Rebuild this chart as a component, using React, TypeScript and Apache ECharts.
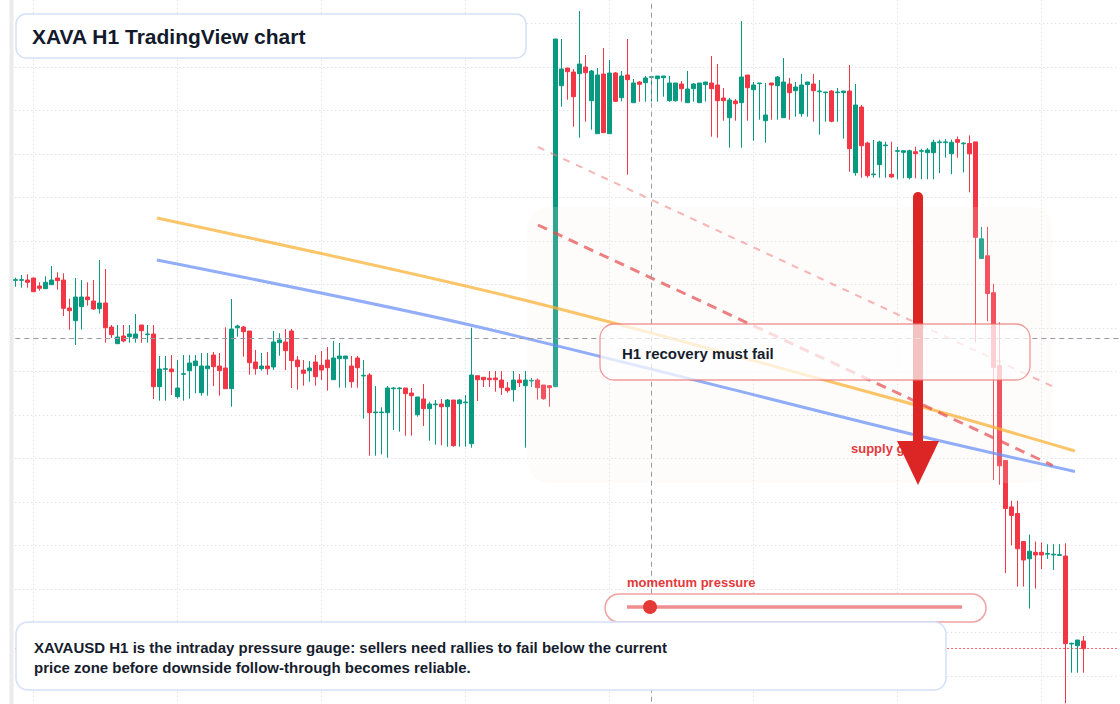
import { useEffect, useRef } from "react";
import * as echarts from "echarts";

// XAVA/USD hourly candles (open, close, low, high)
const opens = [
  0.39197, 0.39197, 0.392, 0.3922, 0.3914, 0.39113, 0.39153, 0.3922, 0.392, 0.3892,
  0.38793, 0.38933, 0.3903, 0.3899, 0.38913, 0.3897, 0.3873, 0.38563, 0.3864, 0.38633,
  0.38617, 0.3875, 0.38653, 0.3866, 0.38133, 0.38307, 0.3831, 0.38033, 0.38257, 0.38293,
  0.38343, 0.38073, 0.38313, 0.3845, 0.3834, 0.3832, 0.38113, 0.38723, 0.3873, 0.3869,
  0.3838, 0.38313, 0.3834, 0.3833, 0.38573, 0.3858, 0.3869, 0.384, 0.383, 0.38293,
  0.3838, 0.38347, 0.384, 0.38203, 0.38413, 0.38413, 0.3834, 0.3842, 0.3824, 0.3825,
  0.37873, 0.37873, 0.37873, 0.38113, 0.38113, 0.3812, 0.3807, 0.37853, 0.3801, 0.37913,
  0.37953, 0.3796, 0.37933, 0.38, 0.37963, 0.37973, 0.37563, 0.38243, 0.38227, 0.38217,
  0.3822, 0.382, 0.3812, 0.38103, 0.382, 0.38143, 0.3819, 0.382, 0.3815, 0.38143,
  0.38133, 0.41143, 0.4132, 0.4128, 0.41263, 0.4133, 0.40993, 0.40663, 0.4126, 0.40663,
  0.4127, 0.41023, 0.4125, 0.40973, 0.4118, 0.41173, 0.41227, 0.41213, 0.41223, 0.40993,
  0.40993, 0.4116, 0.40973, 0.41113, 0.40973, 0.41153, 0.4117, 0.4115, 0.4102, 0.40823,
  0.4099, 0.40973, 0.4125, 0.41103, 0.41163, 0.40793, 0.4117, 0.41143, 0.40823, 0.4116,
  0.41093, 0.40863, 0.41153, 0.4116, 0.41083, 0.41073, 0.4109, 0.41073, 0.41073, 0.4109,
  0.40273, 0.4093, 0.4057, 0.40253, 0.40353, 0.40543, 0.40257, 0.40487, 0.40477, 0.40223,
  0.40483, 0.40487, 0.40473, 0.40473, 0.40573, 0.40573, 0.40462, 0.40604, 0.40562, 0.40565,
  0.40581, 0.39415, 0.39442, 0.39073, 0.38346, 0.37396, 0.36931, 0.36865, 0.36585, 0.36412,
  0.36477, 0.36477, 0.36458, 0.3645, 0.36446, 0.3644, 0.3556, 0.35543, 0.3559,
];

const closes = [
  0.39203, 0.39203, 0.39177, 0.39083, 0.39117, 0.39177, 0.392, 0.39193, 0.38917, 0.38893,
  0.3903, 0.3903, 0.39003, 0.3891, 0.3897, 0.38723, 0.38653, 0.3863, 0.3859, 0.3866,
  0.3866, 0.38693, 0.3866, 0.38133, 0.3831, 0.38313, 0.38283, 0.3812, 0.38263, 0.3837,
  0.3839, 0.3834, 0.3834, 0.38333, 0.38293, 0.38113, 0.3871, 0.3874, 0.38683, 0.38373,
  0.38313, 0.3834, 0.38313, 0.3858, 0.386, 0.38493, 0.38393, 0.38333, 0.38267, 0.3832,
  0.38233, 0.383, 0.38323, 0.3842, 0.3844, 0.3844, 0.38183, 0.38323, 0.38247, 0.37873,
  0.3788, 0.3788, 0.3812, 0.3812, 0.3812, 0.38063, 0.38043, 0.3803, 0.37913, 0.3796,
  0.3796, 0.37933, 0.38, 0.37543, 0.38, 0.3798, 0.3825, 0.38203, 0.38203, 0.38203,
  0.38203, 0.38123, 0.38093, 0.382, 0.38173, 0.382, 0.38197, 0.38123, 0.38013, 0.38123,
  0.4161, 0.4131, 0.41283, 0.41033, 0.4136, 0.41273, 0.4129, 0.4125, 0.40673, 0.4127,
  0.40987, 0.4124, 0.41203, 0.4117, 0.41157, 0.4122, 0.41233, 0.4124, 0.4124, 0.4117,
  0.4117, 0.41113, 0.4111, 0.4116, 0.4117, 0.4118, 0.41113, 0.40993, 0.40993, 0.41,
  0.40963, 0.4123, 0.41123, 0.4115, 0.4117, 0.4085, 0.4115, 0.4123, 0.4118, 0.41073,
  0.4113, 0.4115, 0.4118, 0.41093, 0.4109, 0.4108, 0.40787, 0.4108, 0.4109, 0.40513,
  0.4095, 0.40543, 0.40243, 0.4026, 0.4058, 0.4055, 0.4023, 0.40493, 0.40493, 0.40493,
  0.40463, 0.40493, 0.405, 0.40577, 0.40581, 0.40581, 0.40577, 0.40577, 0.40569, 0.40462,
  0.39627, 0.39612, 0.39065, 0.38327, 0.37342, 0.36915, 0.36846, 0.36512, 0.364, 0.36488,
  0.3645, 0.3645, 0.36465, 0.36458, 0.36454, 0.35563, 0.35567, 0.356, 0.35513,
];

const lows = [
  0.39133, 0.39123, 0.39123, 0.3908, 0.39093, 0.39113, 0.39153, 0.39103, 0.3884, 0.38703,
  0.3855, 0.38703, 0.38943, 0.389, 0.38863, 0.38573, 0.3862, 0.38563, 0.38577, 0.38573,
  0.38573, 0.38573, 0.38573, 0.3801, 0.37993, 0.37993, 0.3805, 0.38013, 0.37993, 0.38013,
  0.38067, 0.38043, 0.38043, 0.3814, 0.38043, 0.38113, 0.37933, 0.38633, 0.38433, 0.38253,
  0.38253, 0.38293, 0.38253, 0.383, 0.38443, 0.383, 0.3812, 0.38103, 0.38143, 0.38183,
  0.38143, 0.382, 0.38093, 0.38203, 0.38123, 0.38123, 0.38123, 0.38123, 0.37813, 0.37443,
  0.37443, 0.37457, 0.37423, 0.377, 0.37683, 0.37643, 0.37643, 0.37833, 0.3774, 0.37593,
  0.37553, 0.37547, 0.37533, 0.37533, 0.37533, 0.37533, 0.37523, 0.3799, 0.3813, 0.3813,
  0.38083, 0.3805, 0.38073, 0.37983, 0.3813, 0.37523, 0.3813, 0.38003, 0.38003, 0.37933,
  0.38133, 0.40933, 0.41003, 0.40733, 0.40623, 0.40783, 0.40703, 0.40663, 0.40673, 0.40663,
  0.4098, 0.40987, 0.40253, 0.40973, 0.40983, 0.40983, 0.40983, 0.40983, 0.41033, 0.40983,
  0.40983, 0.40983, 0.40973, 0.40983, 0.40973, 0.40983, 0.40633, 0.40623, 0.40793, 0.40523,
  0.40793, 0.40523, 0.40793, 0.40593, 0.40803, 0.40573, 0.40803, 0.40803, 0.40823, 0.40803,
  0.40833, 0.40833, 0.40833, 0.40783, 0.40653, 0.40783, 0.40777, 0.40783, 0.40613, 0.40283,
  0.40243, 0.40223, 0.40223, 0.40223, 0.40223, 0.40223, 0.40223, 0.40207, 0.40217, 0.40207,
  0.40217, 0.40207, 0.40208, 0.40208, 0.40269, 0.40423, 0.40258, 0.40423, 0.40277, 0.40077,
  0.38577, 0.39415, 0.38788, 0.372, 0.37154, 0.36269, 0.36546, 0.36135, 0.36135, 0.35915,
  0.36115, 0.36308, 0.36412, 0.363, 0.36442, 0.34967, 0.35273, 0.35273, 0.35273,
];

const highs = [
  0.39223, 0.3925, 0.39257, 0.3922, 0.39177, 0.39237, 0.3934, 0.39277, 0.39267, 0.39013,
  0.3922, 0.392, 0.39177, 0.392, 0.394, 0.3931, 0.3875, 0.3875, 0.3875, 0.3875,
  0.3886, 0.3875, 0.3875, 0.3875, 0.3844, 0.3844, 0.3845, 0.384, 0.3845, 0.3845,
  0.3845, 0.3847, 0.3847, 0.3848, 0.3847, 0.38727, 0.3901, 0.38753, 0.3874, 0.3869,
  0.385, 0.3847, 0.3848, 0.3869, 0.38667, 0.3871, 0.3871, 0.3844, 0.384, 0.3839,
  0.3845, 0.3849, 0.3853, 0.3859, 0.3857, 0.3844, 0.3844, 0.3844, 0.384, 0.3827,
  0.3814, 0.37927, 0.3814, 0.38127, 0.38127, 0.3812, 0.3812, 0.3803, 0.3816, 0.37983,
  0.38, 0.3801, 0.3801, 0.38, 0.3801, 0.3805, 0.38723, 0.38243, 0.38227, 0.3829,
  0.3829, 0.3829, 0.3818, 0.3829, 0.3826, 0.3829, 0.3822, 0.38217, 0.3815, 0.3815,
  0.4161, 0.4161, 0.4132, 0.4131, 0.4189, 0.4145, 0.413, 0.4132, 0.4152, 0.414,
  0.4128, 0.4129, 0.4161, 0.4121, 0.4119, 0.4124, 0.4124, 0.4124, 0.4124, 0.4124,
  0.4117, 0.4119, 0.4129, 0.4117, 0.4117, 0.4118, 0.4144, 0.4136, 0.4112, 0.4102,
  0.4101, 0.4179, 0.4125, 0.4118, 0.4117, 0.4117, 0.4117, 0.4124, 0.4142, 0.4122,
  0.4118, 0.4126, 0.4118, 0.4126, 0.412, 0.4108, 0.411, 0.4112, 0.4109, 0.4135,
  0.4116, 0.4095, 0.40583, 0.406, 0.40593, 0.40583, 0.40583, 0.40533, 0.40493, 0.40503,
  0.40533, 0.40513, 0.40519, 0.40604, 0.40604, 0.40608, 0.40604, 0.40635, 0.40577, 0.40646,
  0.40581, 0.39731, 0.39731, 0.39162, 0.38777, 0.37396, 0.36992, 0.36992, 0.36585, 0.36654,
  0.36585, 0.36577, 0.36558, 0.36558, 0.36558, 0.36567, 0.35573, 0.356, 0.3564,
];

// Hourly time slots: the candles plus a few empty hours on the right edge
const SLOT_COUNT = 185;
const categories = Array.from({ length: SLOT_COUNT }, (_, i) => {
  const h = i + 21;
  const day = 8 + Math.floor(h / 24);
  return `07-${String(day).padStart(2, "0")} ${String(h % 24).padStart(2, "0")}:00`;
});

// Cursor position and price line
const cursorSlot = 106;
const cursorPrice = 0.38617;

// Overlay studies: [slot, price] anchor points
const slowAverage = [
  [23.6, 0.3982],
  [84.1, 0.3901],
  [150.0, 0.3795],
  [176.6, 0.3749],
];
const fastAverage = [
  [23.6, 0.394],
  [75.8, 0.3875],
  [150.0, 0.3765],
  [176.6, 0.37285],
];
const supplyTrend = [
  [87.1, 0.3975],
  [172.9, 0.37345],
];
const upperTrend = [
  [87.1, 0.4053],
  [172.9, 0.38135],
];

const FONT = '"Liberation Sans", Arial, Helvetica, sans-serif';
const UP = "#089981";
const DOWN = "#f23645";
const GRID_LINE = { color: "#d3d6db", width: 1, type: [1, 3] as number[] };

export default function App() {
  const ref = useRef<HTMLDivElement>(null);

  useEffect(() => {
    if (!ref.current) return;
    const chart = echarts.init(ref.current, null, { renderer: "svg" });

    const candles = opens.map((o, i) => [o, closes[i], lows[i], highs[i]]);
    const lastClose = closes[closes.length - 1];

    chart.setOption({
      animation: false,
      backgroundColor: "#ffffff",
      grid: {
        left: 15.3,
        right: 0.7,
        top: -20.23,
        bottom: -15.73,
        containLabel: false,
        outerBoundsMode: "none",
      },
      xAxis: [
        {
          type: "category",
          data: categories,
          boundaryGap: false,
          axisLine: { show: false },
          axisTick: { show: false },
          axisLabel: { show: false },
          splitLine: {
            show: true,
            interval: (index: number) => (index - 3) % 24 === 0,
            lineStyle: GRID_LINE,
          },
        },
        {
          type: "value",
          min: 0,
          max: SLOT_COUNT - 1,
          show: false,
          splitLine: { show: false },
        },
      ],
      yAxis: {
        type: "value",
        min: 0.348027,
        max: 0.422023,
        interval: 0.004353,
        axisLine: { show: false },
        axisTick: { show: false },
        axisLabel: { show: false },
        splitLine: { show: true, lineStyle: GRID_LINE },
      },
      series: [
        {
          type: "candlestick",
          data: candles,
          barWidth: 4,
          clip: false,
          z: 2,
          itemStyle: {
            color: UP,
            color0: DOWN,
            borderColor: UP,
            borderColor0: DOWN,
            borderWidth: 1,
          },
          markLine: {
            silent: true,
            symbol: ["none", "none"],
            precision: 6,
            label: { show: false },
            z: 5,
            data: [
              { xAxis: categories[cursorSlot], lineStyle: { color: "#959aa3", width: 1, type: [5, 4] } },
              { yAxis: cursorPrice, lineStyle: { color: "#959aa3", width: 1, type: [5, 4] } },
              { yAxis: lastClose, lineStyle: { color: DOWN, width: 1, type: [1.5, 2.5] } },
            ],
          },
        },
        {
          type: "line",
          xAxisIndex: 1,
          data: slowAverage,
          smooth: 0.3,
          symbol: "none",
          silent: true,
          z: 4,
          lineStyle: { color: "rgba(250,178,55,0.75)", width: 3 },
        },
        {
          type: "line",
          xAxisIndex: 1,
          data: fastAverage,
          smooth: 0.3,
          symbol: "none",
          silent: true,
          z: 4,
          lineStyle: { color: "rgba(100,140,245,0.7)", width: 3 },
        },
        {
          type: "line",
          xAxisIndex: 1,
          data: supplyTrend,
          symbol: "none",
          silent: true,
          z: 4,
          lineStyle: { color: "rgba(228,80,80,0.72)", width: 3, type: [10, 7] },
        },
        {
          type: "line",
          xAxisIndex: 1,
          data: upperTrend,
          symbol: "none",
          silent: true,
          z: 4,
          lineStyle: { color: "rgba(238,120,120,0.55)", width: 2, type: [7, 7] },
        },
      ],
      graphic: {
        elements: [
          { type: "rect", silent: true, z: 1, shape: { x: 9.5, y: 0, width: 4, height: 704 }, style: { fill: "#ebebeb" } },
          {
            type: "rect",
            silent: true,
            z: 3,
            shape: { x: 527, y: 207, width: 526, height: 276, r: 22 },
            style: { fill: "rgba(250,236,228,0.16)" },
          },
          {
            type: "text",
            silent: true,
            z: 4,
            x: 851,
            y: 448,
            style: { text: "supply gauge", font: `bold 13px ${FONT}`, fill: "#e3393c", verticalAlign: "middle" },
          },
          {
            type: "line",
            silent: true,
            z: 5,
            shape: { x1: 918, y1: 197, x2: 918, y2: 446 },
            style: { stroke: "#dc2626", lineWidth: 10, lineCap: "round" },
          },
          {
            type: "polygon",
            silent: true,
            z: 5,
            shape: { points: [[897, 441], [939, 441], [918, 485]] },
            style: { fill: "#dc2626" },
          },
          {
            type: "rect",
            silent: true,
            z: 6,
            shape: { x: 600, y: 324, width: 430, height: 56, r: 14 },
            style: { fill: "rgba(255,255,255,0.72)", stroke: "rgba(233,110,110,0.7)", lineWidth: 1.3 },
          },
          {
            type: "text",
            silent: true,
            z: 7,
            x: 622,
            y: 353,
            style: { text: "H1 recovery must fail", font: `bold 15px ${FONT}`, fill: "#161d2e", verticalAlign: "middle" },
          },
          {
            type: "rect",
            silent: true,
            z: 6,
            shape: { x: 16, y: 14, width: 510, height: 44, r: 10 },
            style: { fill: "#ffffff", stroke: "#d3e1f8", lineWidth: 1.5 },
          },
          {
            type: "text",
            silent: true,
            z: 7,
            x: 32,
            y: 36,
            style: { text: "XAVA H1 TradingView chart", font: `bold 21px ${FONT}`, fill: "#131a2b", verticalAlign: "middle" },
          },
          {
            type: "text",
            silent: true,
            z: 7,
            x: 627,
            y: 582,
            style: { text: "momentum pressure", font: `bold 13px ${FONT}`, fill: "#e3393c", verticalAlign: "middle" },
          },
          {
            type: "rect",
            silent: true,
            z: 6,
            shape: { x: 605, y: 594, width: 381, height: 28, r: 14 },
            style: { fill: "#ffffff", stroke: "#f0a2a2", lineWidth: 1.5 },
          },
          {
            type: "line",
            silent: true,
            z: 7,
            shape: { x1: 627, y1: 607, x2: 962, y2: 607 },
            style: { stroke: "rgba(229,72,72,0.62)", lineWidth: 3.5 },
          },
          {
            type: "circle",
            silent: true,
            z: 8,
            shape: { cx: 650, cy: 607, r: 7 },
            style: { fill: "#e53935" },
          },
          {
            type: "rect",
            silent: true,
            z: 6,
            shape: { x: 16, y: 622, width: 930, height: 68, r: 12 },
            style: { fill: "#ffffff", stroke: "#d3e1f8", lineWidth: 1.5 },
          },
          {
            type: "text",
            silent: true,
            z: 7,
            x: 34,
            y: 657,
            style: {
              text:
                "XAVAUSD H1 is the intraday pressure gauge: sellers need rallies to fail below the current\nprice zone before downside follow-through becomes reliable.",
              font: `bold 15px ${FONT}`,
              lineHeight: 20,
              fill: "#161d2e",
              verticalAlign: "middle",
            },
          },
        ],
      },
    });

    return () => chart.dispose();
  }, []);

  return (
    <div
      ref={ref}
      style={{ position: "absolute", left: 0, top: 0, width: 1120, height: 704, background: "#ffffff" }}
    />
  );
}
